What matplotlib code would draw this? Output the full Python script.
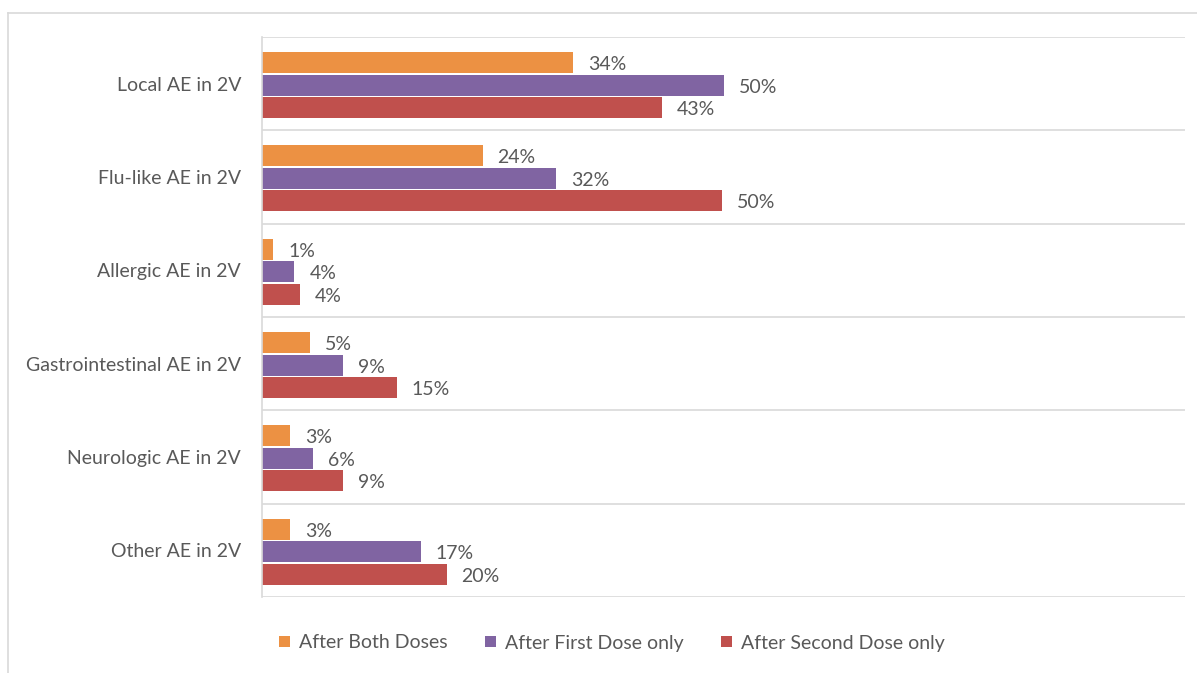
import matplotlib
matplotlib.use("Agg")
import matplotlib.pyplot as plt
from matplotlib.patches import Patch
from matplotlib.lines import Line2D
import numpy as np

categories = ["Local AE in 2V", "Flu-like AE in 2V", "Allergic AE in 2V",
              "Gastrointestinal AE in 2V", "Neurologic AE in 2V", "Other AE in 2V"]
series_names = ["After Both Doses", "After First Dose only", "After Second Dose only"]
both_doses = [33.7, 23.9, 1.2, 5.2, 3.0, 3.0]
first_only = [50.0, 31.9, 3.5, 8.8, 5.5, 17.2]
second_only = [43.3, 49.8, 4.1, 14.6, 8.8, 20.0]
colors = ["#EC9143", "#8064A2", "#C0504D"]

plt.rcParams['font.family'] = ['Lato', 'DejaVu Sans']
text_color = "#595959"
W, H = 1197, 673
fig = plt.figure(figsize=(W / 100, H / 100), dpi=100)

ax = fig.add_axes([262 / W, 1 - 597 / H, (1185 - 262) / W, (597 - 37) / H])

y = np.arange(len(categories))
pitch = 0.241
bh = 0.225
offsets = [-pitch, 0, pitch]
for vals, off, c, name in zip([both_doses, first_only, second_only], offsets, colors, series_names):
    bars = ax.barh(y + off + 0.015, vals, height=bh, color=c, label=name)
    for b, v in zip(bars, vals):
        ax.annotate(f"{v:.0f}%", (b.get_width(), b.get_y() + b.get_height() / 2),
                    xytext=(15, -2), textcoords="offset pixels",
                    ha="left", va="center", fontsize=14, color=text_color)

ax.set_xlim(0, 100)
ax.set_ylim(len(categories) - 0.5, -0.5)
ax.set_yticks(y)
ax.set_yticklabels(categories, fontsize=14, color=text_color)
ax.tick_params(axis="y", length=0, pad=15)
ax.set_xticks([])
for s in ["top", "right", "bottom"]:
    ax.spines[s].set_visible(False)
ax.spines["left"].set_color("#d9d9d9")
ax.spines["left"].set_linewidth(1.2)
for b in np.arange(-0.5, len(categories), 1.0):
    ax.axhline(b, color="#d9d9d9", lw=1.2, zorder=0)

# outer chart border (top and left visible)
fig.add_artist(Line2D([8 / W, 1.0], [1 - 13 / H, 1 - 13 / H], color="#d9d9d9", lw=1.2,
                      transform=fig.transFigure))
fig.add_artist(Line2D([8 / W, 8 / W], [0, 1 - 13 / H], color="#d9d9d9", lw=1.2,
                      transform=fig.transFigure))

handles = [Patch(facecolor=c) for c in colors]
leg = fig.legend(handles, series_names, loc="center", bbox_to_anchor=(612 / W, 1 - 643 / H),
                 ncol=3, frameon=False, fontsize=14, handlelength=0.55, handleheight=0.55,
                 handletextpad=0.45, columnspacing=1.95, labelcolor=text_color)

fig.savefig("out.png", dpi=100)
